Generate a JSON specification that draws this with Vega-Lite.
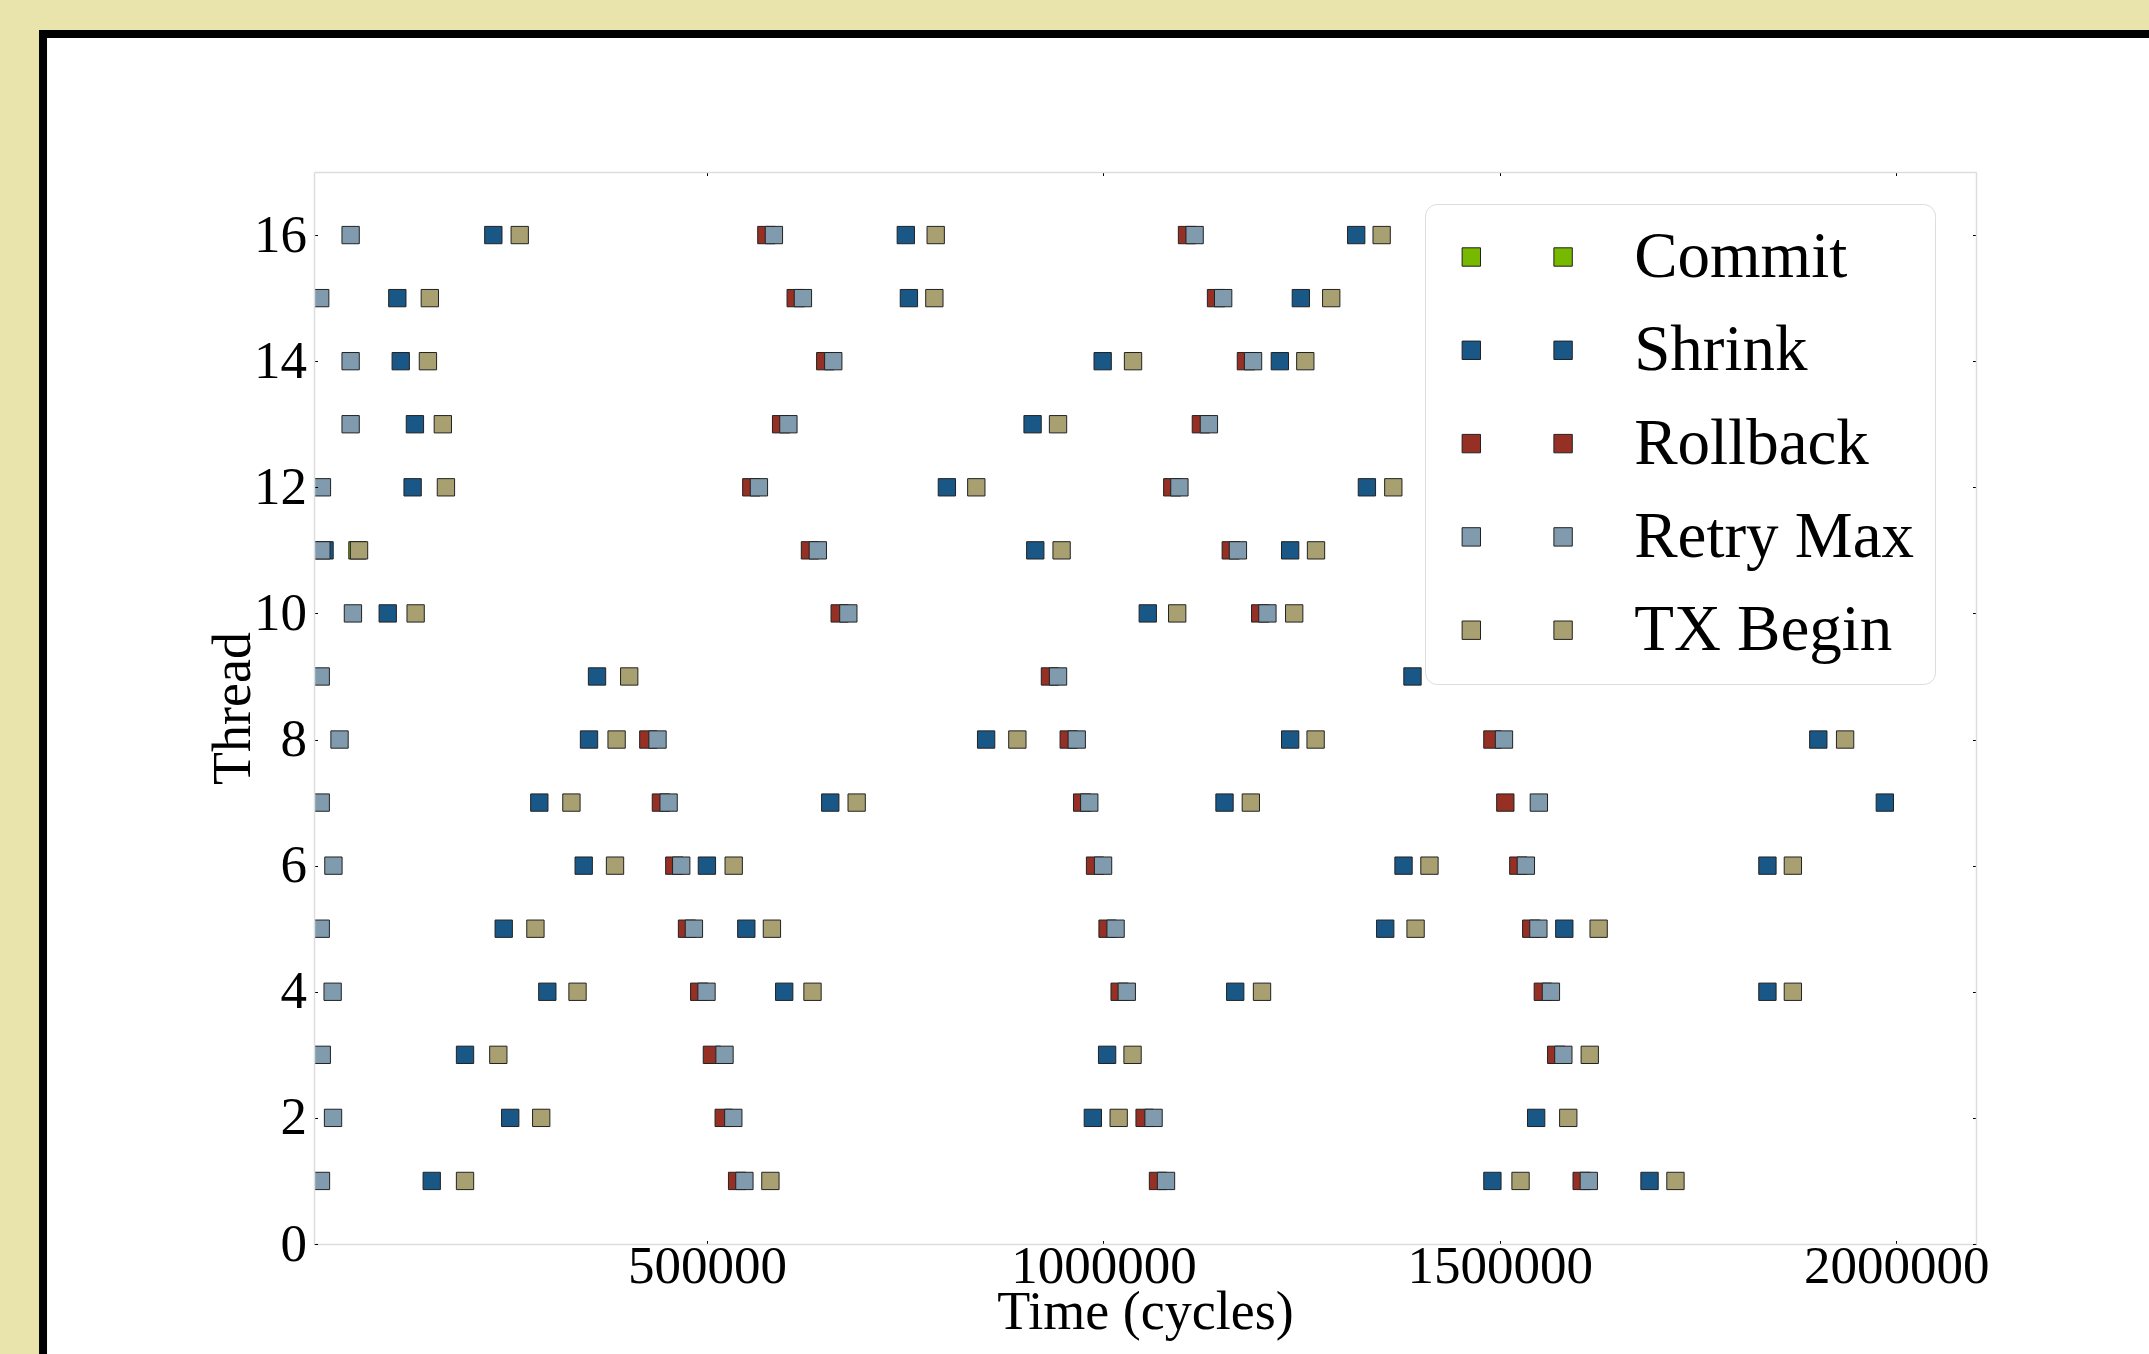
{
  "$schema": "https://vega.github.io/schema/vega-lite/v6.json",
  "background": "#e9e4ab",
  "autosize": {"type": "none"},
  "padding": {"left": 314, "top": 172, "right": 173, "bottom": 110},
  "width": 1662,
  "height": 1072,
  "config": {"view": {"stroke": null}, "font": "Liberation Serif"},
  "resolve": {"axis": {"x": "independent", "y": "independent"}},
  "layer": [
    {
      "data": {"values": [{"panel": "frame"}]},
      "mark": {"type": "rect", "fill": "white", "stroke": "black", "strokeWidth": 8, "clip": false},
      "encoding": {
        "x": {"datum": -337600, "type": "quantitative",
          "scale": {"domain": [4200, 2100600], "nice": false, "zero": false},
          "axis": {"orient": "top", "values": [500000, 1000000, 1500000, 2000000], "labels": false, "title": null, "grid": false,
            "domainColor": "#dddddd", "domainWidth": 1.5, "tickColor": "#000000", "tickSize": -3.5, "tickWidth": 1, "zindex": 1}},
        "x2": {"datum": 3500000},
        "y": {"datum": 19.19, "type": "quantitative",
          "scale": {"domain": [0, 17], "nice": false, "zero": false},
          "axis": {"orient": "right", "values": [0, 2, 4, 6, 8, 10, 12, 14, 16], "labels": false, "title": null, "grid": false,
            "domainColor": "#dddddd", "domainWidth": 1.5, "tickColor": "#000000", "tickSize": -3.5, "tickWidth": 1, "zindex": 1}},
        "y2": {"datum": -5}
      }
    },
    {
      "data": {"values": [
        {"event": "Commit", "thread": 11, "t": 59000},
        {"event": "Shrink", "thread": 16, "t": 230400}, {"event": "Shrink", "thread": 16, "t": 750700}, {"event": "Shrink", "thread": 16, "t": 1318800},
        {"event": "Shrink", "thread": 15, "t": 109300}, {"event": "Shrink", "thread": 15, "t": 754600}, {"event": "Shrink", "thread": 15, "t": 1249000},
        {"event": "Shrink", "thread": 14, "t": 113600}, {"event": "Shrink", "thread": 14, "t": 999000}, {"event": "Shrink", "thread": 14, "t": 1222500},
        {"event": "Shrink", "thread": 13, "t": 131500}, {"event": "Shrink", "thread": 13, "t": 910600},
        {"event": "Shrink", "thread": 12, "t": 128600}, {"event": "Shrink", "thread": 12, "t": 802500}, {"event": "Shrink", "thread": 12, "t": 1332300},
        {"event": "Shrink", "thread": 11, "t": 17500}, {"event": "Shrink", "thread": 11, "t": 914000}, {"event": "Shrink", "thread": 11, "t": 1235500},
        {"event": "Shrink", "thread": 10, "t": 97200}, {"event": "Shrink", "thread": 10, "t": 1055900},
        {"event": "Shrink", "thread": 9, "t": 361200}, {"event": "Shrink", "thread": 9, "t": 1389800},
        {"event": "Shrink", "thread": 8, "t": 351100}, {"event": "Shrink", "thread": 8, "t": 852000}, {"event": "Shrink", "thread": 8, "t": 1235500}, {"event": "Shrink", "thread": 8, "t": 1901700},
        {"event": "Shrink", "thread": 7, "t": 288400}, {"event": "Shrink", "thread": 7, "t": 655400}, {"event": "Shrink", "thread": 7, "t": 1152700}, {"event": "Shrink", "thread": 7, "t": 1985600},
        {"event": "Shrink", "thread": 6, "t": 344400}, {"event": "Shrink", "thread": 6, "t": 499800}, {"event": "Shrink", "thread": 6, "t": 1378500}, {"event": "Shrink", "thread": 6, "t": 1837500},
        {"event": "Shrink", "thread": 5, "t": 243500}, {"event": "Shrink", "thread": 5, "t": 549500}, {"event": "Shrink", "thread": 5, "t": 1355400}, {"event": "Shrink", "thread": 5, "t": 1581300},
        {"event": "Shrink", "thread": 4, "t": 298500}, {"event": "Shrink", "thread": 4, "t": 597300}, {"event": "Shrink", "thread": 4, "t": 1166200}, {"event": "Shrink", "thread": 4, "t": 1837500},
        {"event": "Shrink", "thread": 3, "t": 194700}, {"event": "Shrink", "thread": 3, "t": 1004600},
        {"event": "Shrink", "thread": 2, "t": 251700}, {"event": "Shrink", "thread": 2, "t": 986600}, {"event": "Shrink", "thread": 2, "t": 1545800},
        {"event": "Shrink", "thread": 1, "t": 152700}, {"event": "Shrink", "thread": 1, "t": 1490600}, {"event": "Shrink", "thread": 1, "t": 1688800},
        {"event": "Rollback", "thread": 16, "t": 574800}, {"event": "Rollback", "thread": 16, "t": 1105400},
        {"event": "Rollback", "thread": 15, "t": 611800}, {"event": "Rollback", "thread": 15, "t": 1142000},
        {"event": "Rollback", "thread": 14, "t": 649100}, {"event": "Rollback", "thread": 14, "t": 1179700},
        {"event": "Rollback", "thread": 13, "t": 593400}, {"event": "Rollback", "thread": 13, "t": 1122900},
        {"event": "Rollback", "thread": 12, "t": 555800}, {"event": "Rollback", "thread": 12, "t": 1086800},
        {"event": "Rollback", "thread": 11, "t": 629800}, {"event": "Rollback", "thread": 11, "t": 1160600},
        {"event": "Rollback", "thread": 10, "t": 667300}, {"event": "Rollback", "thread": 10, "t": 1197700},
        {"event": "Rollback", "thread": 9, "t": 932500},
        {"event": "Rollback", "thread": 8, "t": 425900}, {"event": "Rollback", "thread": 8, "t": 956200}, {"event": "Rollback", "thread": 8, "t": 1490600},
        {"event": "Rollback", "thread": 7, "t": 441800}, {"event": "Rollback", "thread": 7, "t": 973100}, {"event": "Rollback", "thread": 7, "t": 1506900},
        {"event": "Rollback", "thread": 6, "t": 458700}, {"event": "Rollback", "thread": 6, "t": 989400}, {"event": "Rollback", "thread": 6, "t": 1523300},
        {"event": "Rollback", "thread": 5, "t": 474700}, {"event": "Rollback", "thread": 5, "t": 1005200}, {"event": "Rollback", "thread": 5, "t": 1539600},
        {"event": "Rollback", "thread": 4, "t": 490100}, {"event": "Rollback", "thread": 4, "t": 1020400}, {"event": "Rollback", "thread": 4, "t": 1554200},
        {"event": "Rollback", "thread": 3, "t": 506100}, {"event": "Rollback", "thread": 3, "t": 1571100},
        {"event": "Rollback", "thread": 2, "t": 521000}, {"event": "Rollback", "thread": 2, "t": 1051900},
        {"event": "Rollback", "thread": 1, "t": 537900}, {"event": "Rollback", "thread": 1, "t": 1068800}, {"event": "Rollback", "thread": 1, "t": 1603200},
        {"event": "Retry Max", "thread": 16, "t": 50400}, {"event": "Retry Max", "thread": 16, "t": 584300}, {"event": "Retry Max", "thread": 16, "t": 1115000},
        {"event": "Retry Max", "thread": 15, "t": 12000}, {"event": "Retry Max", "thread": 15, "t": 620900}, {"event": "Retry Max", "thread": 15, "t": 1151000},
        {"event": "Retry Max", "thread": 14, "t": 50400}, {"event": "Retry Max", "thread": 14, "t": 659200}, {"event": "Retry Max", "thread": 14, "t": 1188700},
        {"event": "Retry Max", "thread": 13, "t": 50400}, {"event": "Retry Max", "thread": 13, "t": 602600}, {"event": "Retry Max", "thread": 13, "t": 1133000},
        {"event": "Retry Max", "thread": 12, "t": 14200}, {"event": "Retry Max", "thread": 12, "t": 565400}, {"event": "Retry Max", "thread": 12, "t": 1095800},
        {"event": "Retry Max", "thread": 11, "t": 13500}, {"event": "Retry Max", "thread": 11, "t": 639700}, {"event": "Retry Max", "thread": 11, "t": 1169600},
        {"event": "Retry Max", "thread": 10, "t": 53300}, {"event": "Retry Max", "thread": 10, "t": 678200}, {"event": "Retry Max", "thread": 10, "t": 1206800},
        {"event": "Retry Max", "thread": 9, "t": 12700}, {"event": "Retry Max", "thread": 9, "t": 942700},
        {"event": "Retry Max", "thread": 8, "t": 36400}, {"event": "Retry Max", "thread": 8, "t": 437500}, {"event": "Retry Max", "thread": 8, "t": 966300}, {"event": "Retry Max", "thread": 8, "t": 1505200},
        {"event": "Retry Max", "thread": 7, "t": 12700}, {"event": "Retry Max", "thread": 7, "t": 451500}, {"event": "Retry Max", "thread": 7, "t": 982100}, {"event": "Retry Max", "thread": 7, "t": 1549200},
        {"event": "Retry Max", "thread": 6, "t": 28700}, {"event": "Retry Max", "thread": 6, "t": 467400}, {"event": "Retry Max", "thread": 6, "t": 999500}, {"event": "Retry Max", "thread": 6, "t": 1532800},
        {"event": "Retry Max", "thread": 5, "t": 12700}, {"event": "Retry Max", "thread": 5, "t": 483400}, {"event": "Retry Max", "thread": 5, "t": 1015300}, {"event": "Retry Max", "thread": 5, "t": 1548600},
        {"event": "Retry Max", "thread": 4, "t": 27700}, {"event": "Retry Max", "thread": 4, "t": 499300}, {"event": "Retry Max", "thread": 4, "t": 1029400}, {"event": "Retry Max", "thread": 4, "t": 1564400},
        {"event": "Retry Max", "thread": 3, "t": 14000}, {"event": "Retry Max", "thread": 3, "t": 522000}, {"event": "Retry Max", "thread": 3, "t": 1580100},
        {"event": "Retry Max", "thread": 2, "t": 28200}, {"event": "Retry Max", "thread": 2, "t": 533100}, {"event": "Retry Max", "thread": 2, "t": 1063200},
        {"event": "Retry Max", "thread": 1, "t": 13000}, {"event": "Retry Max", "thread": 1, "t": 547100}, {"event": "Retry Max", "thread": 1, "t": 1078900}, {"event": "Retry Max", "thread": 1, "t": 1612200},
        {"event": "TX Begin", "thread": 16, "t": 263700}, {"event": "TX Begin", "thread": 16, "t": 788400}, {"event": "TX Begin", "thread": 16, "t": 1350900},
        {"event": "TX Begin", "thread": 15, "t": 150300}, {"event": "TX Begin", "thread": 15, "t": 786700}, {"event": "TX Begin", "thread": 15, "t": 1287300},
        {"event": "TX Begin", "thread": 14, "t": 147900}, {"event": "TX Begin", "thread": 14, "t": 1037300}, {"event": "TX Begin", "thread": 14, "t": 1254600},
        {"event": "TX Begin", "thread": 13, "t": 166700}, {"event": "TX Begin", "thread": 13, "t": 942700},
        {"event": "TX Begin", "thread": 12, "t": 170600}, {"event": "TX Begin", "thread": 12, "t": 839600}, {"event": "TX Begin", "thread": 12, "t": 1365600},
        {"event": "TX Begin", "thread": 11, "t": 61000}, {"event": "TX Begin", "thread": 11, "t": 947200}, {"event": "TX Begin", "thread": 11, "t": 1268100},
        {"event": "TX Begin", "thread": 10, "t": 132400}, {"event": "TX Begin", "thread": 10, "t": 1093000}, {"event": "TX Begin", "thread": 10, "t": 1240600},
        {"event": "TX Begin", "thread": 9, "t": 401800},
        {"event": "TX Begin", "thread": 8, "t": 385900}, {"event": "TX Begin", "thread": 8, "t": 891400}, {"event": "TX Begin", "thread": 8, "t": 1267600}, {"event": "TX Begin", "thread": 8, "t": 1935500},
        {"event": "TX Begin", "thread": 7, "t": 328900}, {"event": "TX Begin", "thread": 7, "t": 688700}, {"event": "TX Begin", "thread": 7, "t": 1185900},
        {"event": "TX Begin", "thread": 6, "t": 383900}, {"event": "TX Begin", "thread": 6, "t": 533600}, {"event": "TX Begin", "thread": 6, "t": 1411200}, {"event": "TX Begin", "thread": 6, "t": 1869600},
        {"event": "TX Begin", "thread": 5, "t": 283500}, {"event": "TX Begin", "thread": 5, "t": 581800}, {"event": "TX Begin", "thread": 5, "t": 1393700}, {"event": "TX Begin", "thread": 5, "t": 1624600},
        {"event": "TX Begin", "thread": 4, "t": 336600}, {"event": "TX Begin", "thread": 4, "t": 633000}, {"event": "TX Begin", "thread": 4, "t": 1200000}, {"event": "TX Begin", "thread": 4, "t": 1869600},
        {"event": "TX Begin", "thread": 3, "t": 236700}, {"event": "TX Begin", "thread": 3, "t": 1036700}, {"event": "TX Begin", "thread": 3, "t": 1613400},
        {"event": "TX Begin", "thread": 2, "t": 290800}, {"event": "TX Begin", "thread": 2, "t": 1019200}, {"event": "TX Begin", "thread": 2, "t": 1586300},
        {"event": "TX Begin", "thread": 1, "t": 194700}, {"event": "TX Begin", "thread": 1, "t": 579900}, {"event": "TX Begin", "thread": 1, "t": 1526100}, {"event": "TX Begin", "thread": 1, "t": 1721500}
      ]},
      "mark": {"type": "point", "shape": "square", "filled": true, "size": 300, "stroke": "#222222", "strokeWidth": 1, "opacity": 1, "clip": true},
      "encoding": {
        "x": {"field": "t", "type": "quantitative",
          "scale": {"domain": [4200, 2100600], "nice": false, "zero": false},
          "axis": {"orient": "bottom", "values": [500000, 1000000, 1500000, 2000000], "format": "d", "title": "Time (cycles)", "grid": false,
            "domainColor": "#dddddd", "domainWidth": 1.5, "tickColor": "#000000", "tickSize": -3.5, "tickWidth": 1,
            "labelFont": "Liberation Serif", "labelFontSize": 53, "labelColor": "#000000", "labelBaseline": "alphabetic", "labelPadding": 42,
            "labelFlush": false, "labelOverlap": false, "labelLimit": 1000,
            "titleFont": "Liberation Serif", "titleFontSize": 54, "titleFontWeight": "normal", "titleColor": "#000000",
            "titleBaseline": "alphabetic", "titlePadding": 34.5, "zindex": 1}},
        "y": {"field": "thread", "type": "quantitative",
          "scale": {"domain": [0, 17], "nice": false, "zero": false},
          "axis": {"orient": "left", "values": [0, 2, 4, 6, 8, 10, 12, 14, 16], "format": "d", "title": "Thread", "grid": false,
            "domainColor": "#dddddd", "domainWidth": 1.5, "tickColor": "#000000", "tickSize": -3.5, "tickWidth": 1,
            "labelFont": "Liberation Serif", "labelFontSize": 53, "labelColor": "#000000", "labelBaseline": "middle", "labelPadding": 11,
            "labelFlush": false, "labelOverlap": false, "labelLimit": 1000,
            "titleFont": "Liberation Serif", "titleFontSize": 54, "titleFontWeight": "normal", "titleColor": "#000000",
            "titleBaseline": "alphabetic", "titlePadding": 4, "zindex": 1}},
        "color": {"field": "event", "type": "nominal",
          "scale": {"domain": ["Commit", "Shrink", "Rollback", "Retry Max", "TX Begin"],
                    "range": ["#76b900", "#195787", "#963024", "#809bae", "#a8a070"]},
          "legend": {"title": null, "orient": "none", "legendX": 1111, "legendY": 32, "padding": 20,
            "fillColor": "#ffffff", "strokeColor": "#dddddd", "cornerRadius": 12,
            "labelFont": "Liberation Serif", "labelFontSize": 65, "labelColor": "#000000", "labelLimit": 1000,
            "labelOffset": 84, "symbolOffset": 39.2, "rowPadding": 27.3,
            "symbolType": "M1.129,-0.283H1.695V0.283H1.129Z M-1.695,-0.283H-1.129V0.283H-1.695Z",
            "symbolSize": 4225, "symbolStrokeColor": "#222222", "symbolStrokeWidth": 1, "zindex": 1,
            "encode": {
              "legend": {"update": {"stroke": {"value": "#dddddd"}, "strokeWidth": {"value": 1.5}}},
              "symbols": {"update": {
              "shape": {"value": "M1.129,-0.283H1.695V0.283H1.129Z M-1.695,-0.283H-1.129V0.283H-1.695Z"},
              "size": {"value": 4225}, "stroke": {"value": "#222222"}, "strokeWidth": {"value": 1}, "opacity": {"value": 1}}}}}
        }
      }
    }
  ]
}
